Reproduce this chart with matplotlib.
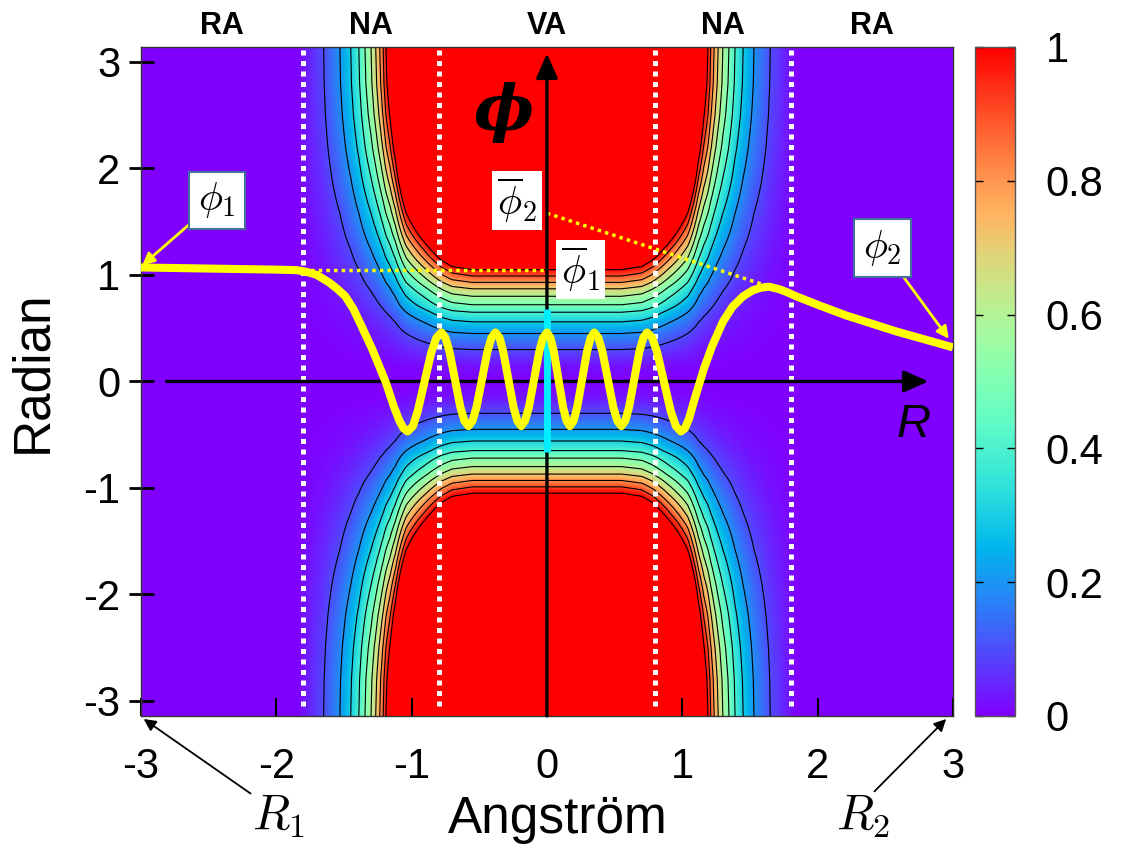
import numpy as np
import matplotlib
matplotlib.use("Agg")
import matplotlib.pyplot as plt

plt.rcParams['font.family'] = ['Liberation Sans', 'DejaVu Sans']
plt.rcParams['mathtext.fontset'] = 'cm'

# radial profile of the map (|R| in Angstrom -> amplitude)
r_knots = [0.0, 0.55, 0.70, 0.78, 0.90, 1.04, 1.12, 1.16, 1.19, 1.21, 1.235, 1.265,
           1.30, 1.345, 1.39, 1.45, 1.53, 1.65, 1.85, 3.0]
a_vals = [4.0, 4.0, 3.8, 3.45, 2.75, 2.0, 1.35, 1.12, 1.0, 0.9, 0.8, 0.7,
          0.6, 0.5, 0.4, 0.3, 0.2, 0.1, 0.0, 0.0]
# angular profile (|phi| in radian -> weight)
phi_knots = [0.0, 0.15, 0.30, 0.45, 0.56, 0.65, 0.72, 0.80, 0.87, 0.93, 0.99, 1.05,
             1.25, 1.56, 1.90, 2.19, 2.50, 2.80, np.pi]
b_vals = [0.0, 0.006, 0.025, 0.05, 0.075, 0.10, 0.125, 0.15, 0.175, 0.20, 0.225, 0.25,
          0.34, 0.49, 0.66, 0.79, 0.90, 0.97, 1.0]
contour_levels = [0.1, 0.2, 0.3, 0.4, 0.5, 0.6, 0.7, 0.8, 0.9, 1.0]

# yellow trajectory phi(R)
traj_r = [-3.0, -2.5, -2.0, -1.85, -1.78, -1.70, -1.61, -1.55, -1.49, -1.43, -1.37, -1.29,
          -1.19, -1.13, -1.09, -1.06, -1.03,
          -0.99, -0.955, -0.905, -0.855, -0.8175, -0.78,
          -0.75, -0.72, -0.68, -0.64, -0.61, -0.58,
          -0.55, -0.52, -0.48, -0.44, -0.41, -0.38,
          -0.35, -0.323, -0.285, -0.247, -0.219, -0.19,
          -0.162, -0.133, -0.095, -0.057, -0.029, 0.0,
          0.026, 0.051, 0.085, 0.119, 0.145, 0.17,
          0.197, 0.224, 0.26, 0.296, 0.323, 0.35,
          0.38, 0.41, 0.45, 0.49, 0.52, 0.55,
          0.579, 0.607, 0.645, 0.683, 0.712, 0.74,
          0.778, 0.815, 0.865, 0.915, 0.953, 0.99,
          1.02, 1.05, 1.09, 1.16, 1.22, 1.30, 1.37, 1.45, 1.52, 1.58, 1.64, 1.72, 1.78,
          1.84, 1.92, 2.0, 2.21, 2.58, 3.0]
traj_phi = [1.07, 1.06, 1.05, 1.045, 1.03, 1.0, 0.93, 0.87, 0.80, 0.68, 0.52, 0.30,
            -0.01, -0.24, -0.37, -0.44, -0.47,
            -0.42, -0.28, -0.005, 0.27, 0.41, 0.46,
            0.41, 0.28, 0.02, -0.24, -0.37, -0.42,
            -0.37, -0.24, 0.02, 0.28, 0.41, 0.46,
            0.41, 0.28, 0.02, -0.24, -0.37, -0.42,
            -0.37, -0.24, 0.02, 0.28, 0.41, 0.46,
            0.41, 0.28, 0.02, -0.24, -0.37, -0.42,
            -0.37, -0.24, 0.02, 0.28, 0.41, 0.46,
            0.41, 0.28, 0.02, -0.24, -0.37, -0.42,
            -0.37, -0.24, 0.02, 0.28, 0.41, 0.46,
            0.41, 0.27, -0.005, -0.28, -0.42, -0.47,
            -0.44, -0.35, -0.17, 0.12, 0.33, 0.56, 0.70, 0.80, 0.855, 0.88, 0.89, 0.865, 0.835,
            0.80, 0.76, 0.72, 0.62, 0.47, 0.32]

# dotted guides
phi1_bar_r = [-1.8, 0.0]
phi1_bar_phi = [1.05, 1.05]
phi2_bar_r = [0.0, 1.62]
phi2_bar_phi = [1.58, 0.90]
region_bounds = [-1.8, -0.8, 0.8, 1.8]
region_names = ['RA', 'NA', 'VA', 'NA', 'RA']
region_centers = [-2.4, -1.3, 0.0, 1.3, 2.4]
va_bar = [-0.66, 0.68]

xticks = [-3, -2, -1, 0, 1, 2, 3]
yticks = [-3, -2, -1, 0, 1, 2, 3]
cbar_ticks = [0, 0.2, 0.4, 0.6, 0.8, 1.0]
cbar_labels = ['0', '0.2', '0.4', '0.6', '0.8', '1']

# build the map
rr = np.linspace(-3, 3, 601)
pp = np.linspace(-np.pi, np.pi, 601)
RR, PP = np.meshgrid(rr, pp)
field = np.interp(np.abs(RR), r_knots, a_vals) * np.interp(np.abs(PP), phi_knots, b_vals)

fig = plt.figure(figsize=(11.24, 8.48), dpi=100)
ax = fig.add_axes([0.1254, 0.1557, 0.7224, 0.789])
im = ax.imshow(field, extent=[-3, 3, -np.pi, np.pi], origin='lower', cmap='rainbow',
               vmin=0, vmax=1, aspect='auto', interpolation='bilinear')
ax.contour(RR, PP, field, levels=contour_levels, colors='k', linewidths=0.8)

for xb in region_bounds:
    ax.plot([xb, xb], [-3.05, np.pi], color='white', lw=3.6, ls=(0, (1, 1.1)), zorder=3)

ax.plot(phi1_bar_r, phi1_bar_phi, color='#ffff00', lw=2.5, ls=(0, (1, 1.2)), zorder=4)
ax.plot(phi2_bar_r, phi2_bar_phi, color='#ffff00', lw=2.5, ls=(0, (1, 1.2)), zorder=4)

# axes arrows
ax.annotate('', xy=(0, 3.08), xytext=(0, -np.pi),
            arrowprops=dict(arrowstyle='-|>,head_length=0.5,head_width=0.22', color='k',
                            lw=2.4, mutation_scale=30, shrinkA=0, shrinkB=0), zorder=5)
ax.annotate('', xy=(2.82, 0), xytext=(-2.81, 0),
            arrowprops=dict(arrowstyle='-|>,head_length=0.5,head_width=0.22', color='k',
                            lw=2.4, mutation_scale=30, shrinkA=0, shrinkB=0), zorder=5)

ax.plot([0, 0], va_bar, color='#00eeff', lw=5, solid_capstyle='butt', zorder=6)
ax.plot(traj_r, traj_phi, color='#ffff00', lw=5.8, solid_capstyle='butt',
        solid_joinstyle='round', zorder=7)

ax.text(-0.32, 2.52, '\u03d5', family='DejaVu Serif', style='italic', weight='bold',
        fontsize=46, ha='center', va='center', zorder=8)
ax.text(2.71, -0.41, 'R', style='italic', fontsize=34, ha='center', va='center', zorder=8)

box_edge = dict(boxstyle='square,pad=0.22', fc='white', ec='#41719c', lw=1.5)
box_plain = dict(boxstyle='square,pad=0.12', fc='white', ec='none')
ax.annotate(r'$\phi_1$', xy=(-2.99, 1.09), xytext=(-2.44, 1.70), fontsize=29,
            ha='center', va='center', bbox=box_edge, zorder=9,
            arrowprops=dict(arrowstyle='-|>', color='#ffff00', lw=2, mutation_scale=18,
                            shrinkA=0, shrinkB=0))
ax.annotate(r'$\phi_2$', xy=(2.97, 0.40), xytext=(2.48, 1.25), fontsize=29,
            ha='center', va='center', bbox=box_edge, zorder=9,
            arrowprops=dict(arrowstyle='-|>', color='#ffff00', lw=2, mutation_scale=18,
                            shrinkA=0, shrinkB=0))
ax.text(-0.22, 1.70, r'$\overline{\phi}_2$', fontsize=29, ha='center', va='center',
        bbox=box_plain, zorder=9)
ax.text(0.25, 1.05, r'$\overline{\phi}_1$', fontsize=29, ha='center', va='center',
        bbox=box_plain, zorder=9)

# R1 / R2 markers below the axis
ax.annotate('', xy=(-2.98, -3.17), xytext=(-2.19, -3.87), annotation_clip=False,
            arrowprops=dict(arrowstyle='-|>', color='k', lw=1.3, mutation_scale=18,
                            shrinkA=0, shrinkB=0))
ax.annotate('', xy=(2.95, -3.17), xytext=(2.42, -3.85), annotation_clip=False,
            arrowprops=dict(arrowstyle='-|>', color='k', lw=1.3, mutation_scale=18,
                            shrinkA=0, shrinkB=0))
ax.text(-1.98, -4.08, r'$R_1$', fontsize=35, ha='center', va='center', clip_on=False)
ax.text(2.34, -4.08, r'$R_2$', fontsize=35, ha='center', va='center', clip_on=False)

for name, xc in zip(region_names, region_centers):
    ax.text(xc, 3.34, name, fontsize=22, weight='bold', ha='center', va='center',
            clip_on=False)

ax.set_xlim(-3, 3)
ax.set_ylim(-np.pi, np.pi)
ax.set_xticks(xticks)
ax.set_xticklabels([str(t) for t in xticks])
ax.set_yticks(yticks)
ax.set_yticklabels([str(t) for t in yticks])
ax.tick_params(axis='x', direction='in', length=13, width=1.5, labelsize=30, pad=22)
ax.tick_params(axis='y', direction='inout', length=18, width=2, labelsize=30, pad=6)
for sp in ax.spines.values():
    sp.set_linewidth(1)
    sp.set_color('#333333')

fig.text(33 / 1124, 1 - 372 / 848, 'Radian', fontsize=37, rotation=90,
         ha='center', va='center')
fig.text(558 / 1124, 1 - 820 / 848, 'Angstr\u00f6m', fontsize=37, ha='center', va='center')

cax = fig.add_axes([0.8674, 0.1557, 0.0356, 0.789])
cb = fig.colorbar(im, cax=cax)
cb.set_ticks(cbar_ticks)
cb.set_ticklabels(cbar_labels)
cax.tick_params(direction='in', length=6, width=1, left=True, right=True,
                labelsize=30, pad=22)
cb.outline.set_linewidth(1)
cb.outline.set_edgecolor('#555555')

fig.savefig('out.png', dpi=100, facecolor='white')
